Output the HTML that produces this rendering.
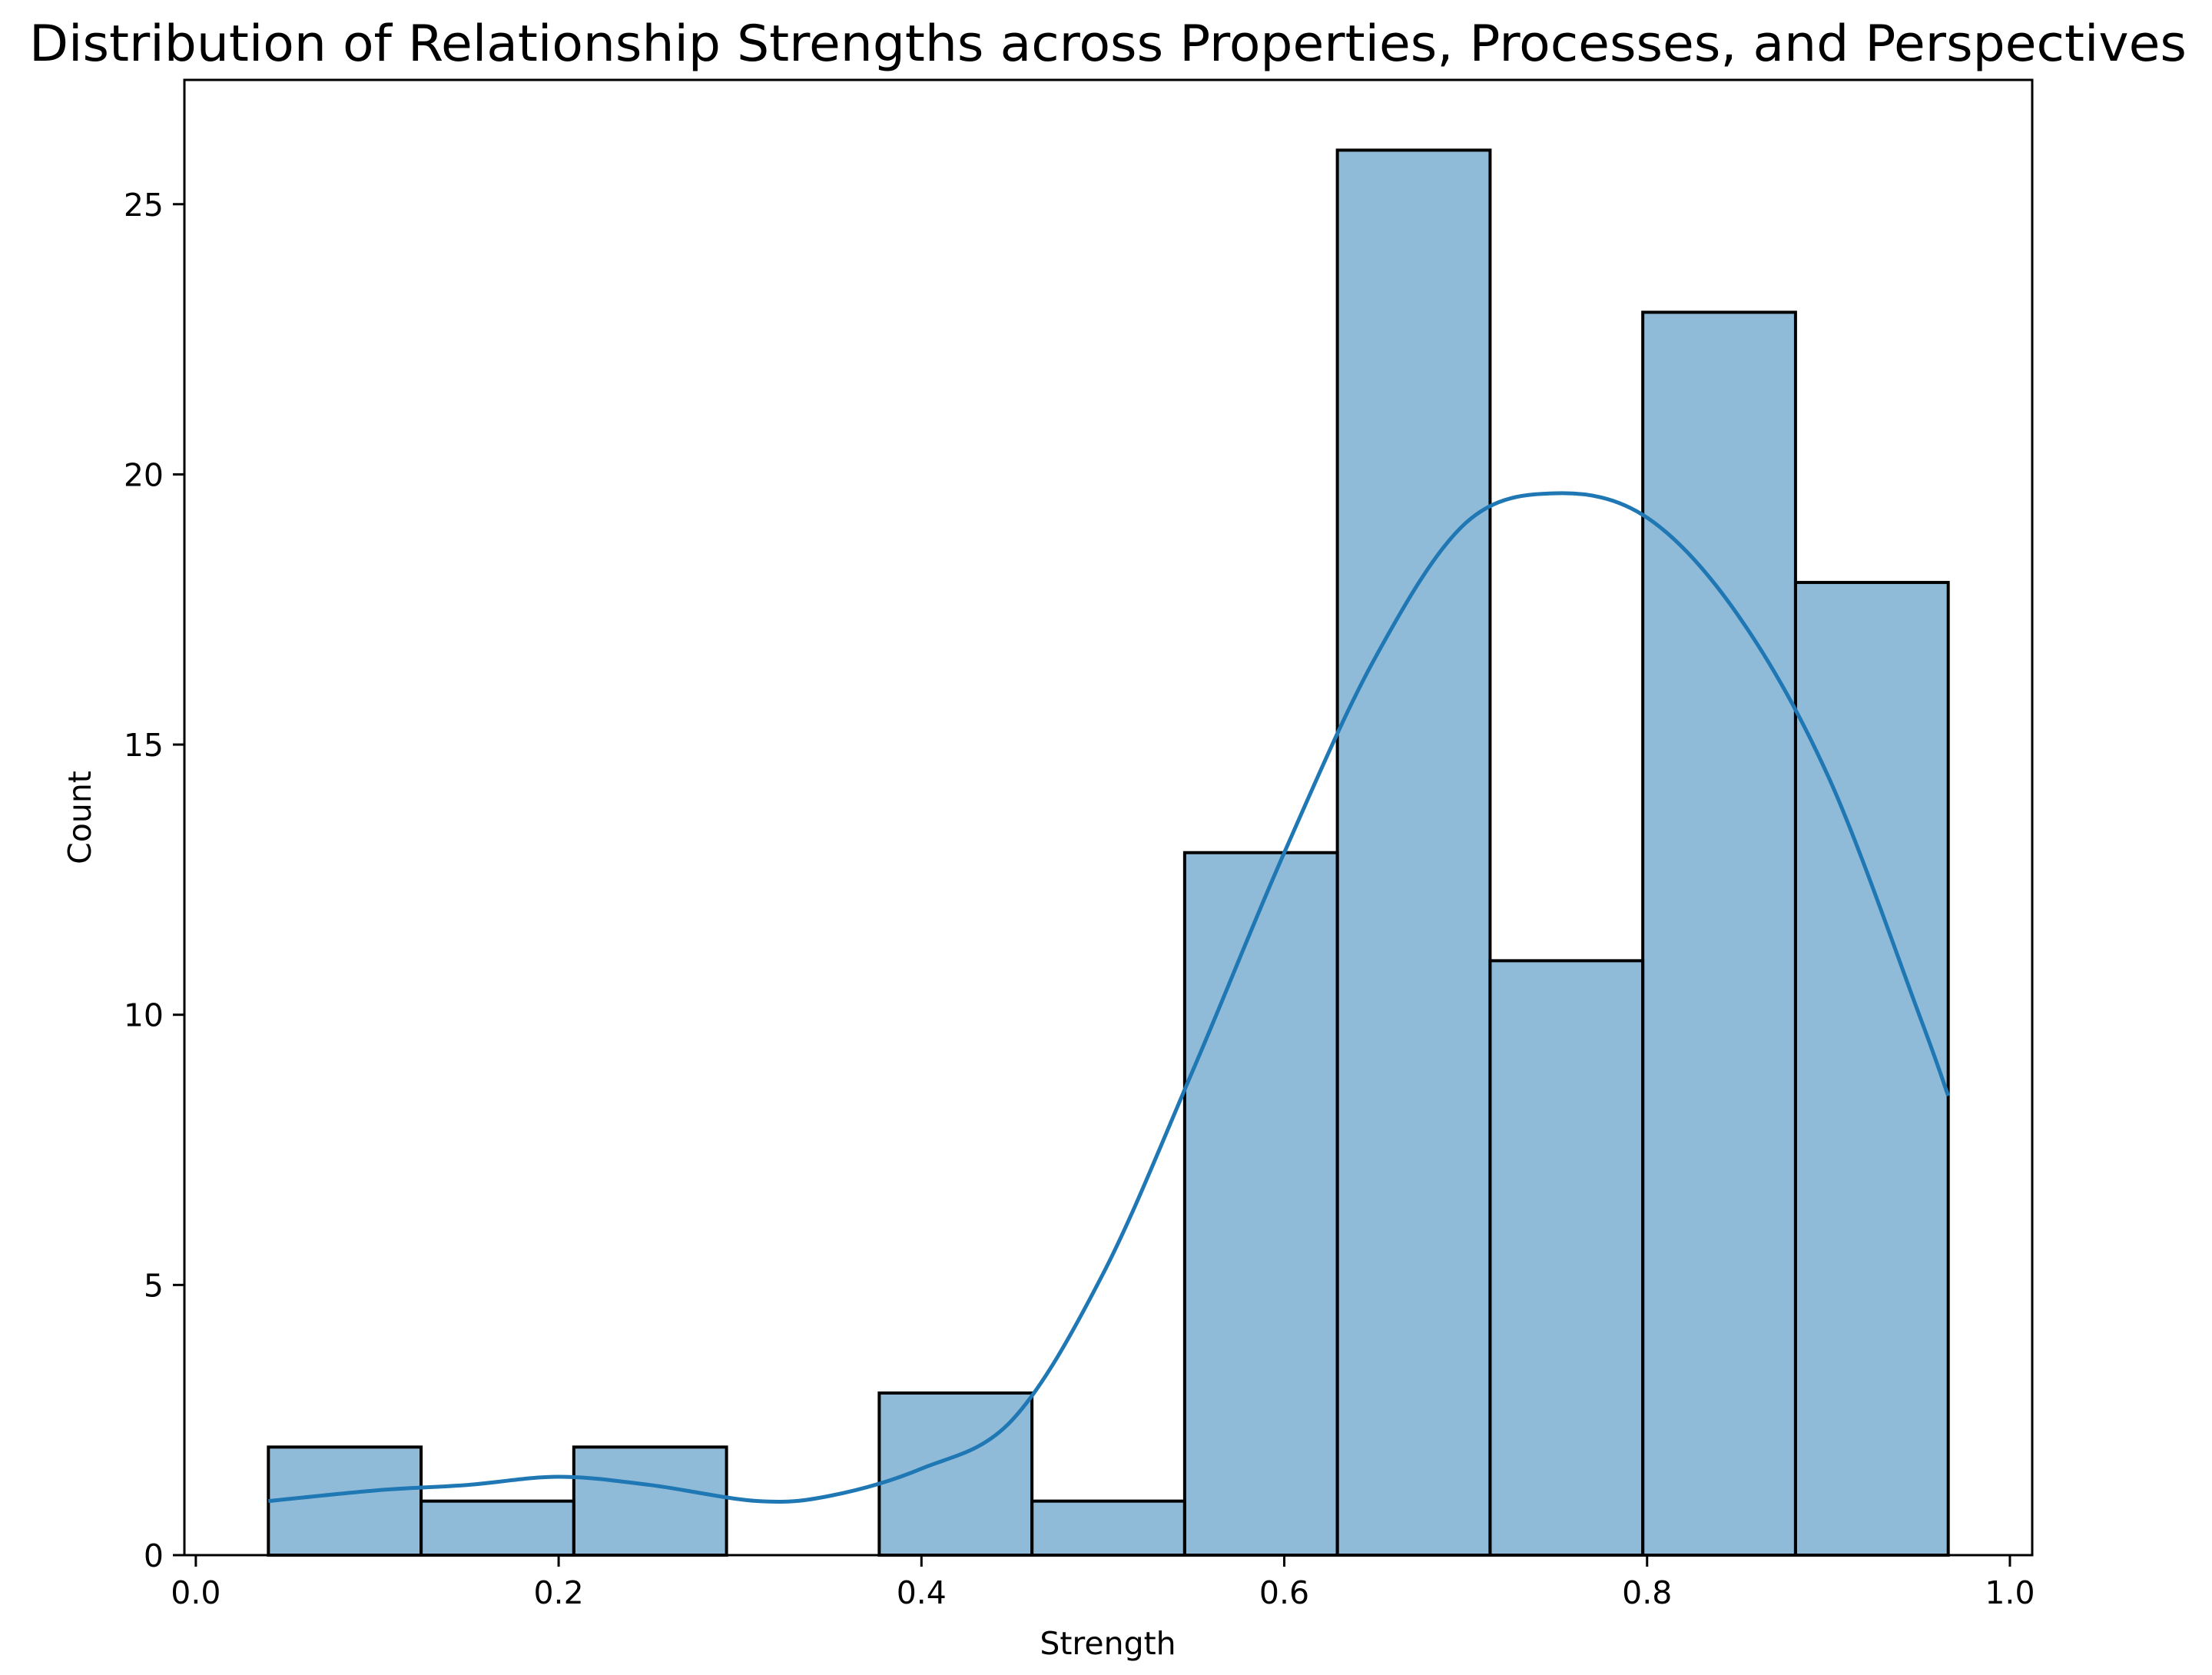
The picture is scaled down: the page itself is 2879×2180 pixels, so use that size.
<!DOCTYPE html>
<html><head><meta charset="utf-8"><style>
html,body{margin:0;padding:0;background:#fff;}
svg{display:block;font-family:"DejaVu Sans","Liberation Sans",sans-serif;}
</style></head><body>
<svg id="chart" width="2879" height="2180" viewBox="0 0 2879 2180" xmlns="http://www.w3.org/2000/svg">
<rect width="2879" height="2180" fill="#fff"/>
<text x="1442" y="79" font-size="65" text-anchor="middle" textLength="2808" lengthAdjust="spacingAndGlyphs">Distribution of Relationship Strengths across Properties, Processes, and Perspectives</text>
<g id="bars"></g>
<path id="kde" fill="none" stroke="#1f77b4" stroke-width="5"/>
<g id="axes"></g>
<text x="1442" y="2153" font-size="41" text-anchor="middle">Strength</text>
<text x="0" y="0" font-size="41" text-anchor="middle" transform="translate(118,1064) rotate(-90)">Count</text>
</svg>
<script>
const binStart = 0.04;
const binEnd = 0.966;
const counts = [2,1,2,0,3,1,13,26,11,23,18];
const kdeX = [0.04,0.1,0.15,0.2,0.25,0.31,0.35,0.4,0.45,0.5,0.55,0.6,0.65,0.7,0.75,0.8,0.85,0.9,0.95,0.966];
const kdeY = [1.0,1.2,1.3,1.45,1.3,1.0,1.1,1.6,2.5,5.2,9.0,13.0,16.6,19.1,19.65,19.2,17.4,14.4,10.0,8.5];
const xTicks = [0,0.2,0.4,0.6,0.8,1.0];
const xTickLabels = ["0.0","0.2","0.4","0.6","0.8","1.0"];
const yTicks = [0,5,10,15,20,25];
const yTickLabels = ["0","5","10","15","20","25"];

const L=240,R=2645,T=104,B=2024;
const xmin=-0.0063,xmax=1.0123,ymax=27.3;
const sx=v=>L+(v-xmin)/(xmax-xmin)*(R-L);
const sy=v=>B-v/ymax*(B-T);
const NS="http://www.w3.org/2000/svg";
const bars=document.getElementById('bars');
const w=(binEnd-binStart)/counts.length;
counts.forEach((c,i)=>{
  const x0=sx(binStart+i*w),x1=sx(binStart+(i+1)*w);
  const r=document.createElementNS(NS,'rect');
  r.setAttribute('x',x0);r.setAttribute('y',sy(c));
  r.setAttribute('width',x1-x0);r.setAttribute('height',B-sy(c));
  r.setAttribute('fill','rgba(31,119,180,0.5)');r.setAttribute('stroke','#000');r.setAttribute('stroke-width','4');
  
  
  bars.appendChild(r);
});
const pts=kdeX.map((x,i)=>[sx(x),sy(kdeY[i])]);
let d=`M${pts[0][0]},${pts[0][1]}`;
for(let i=0;i<pts.length-1;i++){
  const p0=pts[Math.max(0,i-1)],p1=pts[i],p2=pts[i+1],p3=pts[Math.min(pts.length-1,i+2)];
  const c1=[p1[0]+(p2[0]-p0[0])/6,p1[1]+(p2[1]-p0[1])/6];
  const c2=[p2[0]-(p3[0]-p1[0])/6,p2[1]-(p3[1]-p1[1])/6];
  d+=` C${c1[0]},${c1[1]} ${c2[0]},${c2[1]} ${p2[0]},${p2[1]}`;
}
document.getElementById('kde').setAttribute('d',d);
const ax=document.getElementById('axes');
const frame=document.createElementNS(NS,'rect');
frame.setAttribute('x',L);frame.setAttribute('y',T);frame.setAttribute('width',R-L);frame.setAttribute('height',B-T);
frame.setAttribute('fill','none');frame.setAttribute('stroke','#000');frame.setAttribute('stroke-width','3');


ax.appendChild(frame);
xTicks.forEach((v,i)=>{
  const l=document.createElementNS(NS,'line');
  l.setAttribute('x1',sx(v));l.setAttribute('x2',sx(v));l.setAttribute('y1',B);l.setAttribute('y2',B+15);
  l.setAttribute('stroke','#000');l.setAttribute('stroke-width','3');
  
  
  ax.appendChild(l);
  const t=document.createElementNS(NS,'text');
  t.setAttribute('x',sx(v));t.setAttribute('y',B+63);t.setAttribute('font-size','41');t.setAttribute('text-anchor','middle');
  t.textContent=xTickLabels[i];
  
  
  ax.appendChild(t);
});
yTicks.forEach((v,i)=>{
  const l=document.createElementNS(NS,'line');
  l.setAttribute('x1',L-15);l.setAttribute('x2',L);l.setAttribute('y1',sy(v));l.setAttribute('y2',sy(v));
  l.setAttribute('stroke','#000');l.setAttribute('stroke-width','3');
  
  
  ax.appendChild(l);
  const t=document.createElementNS(NS,'text');
  t.setAttribute('x',L-27);t.setAttribute('y',sy(v)+15);t.setAttribute('font-size','41');t.setAttribute('text-anchor','end');
  t.textContent=yTickLabels[i];
  
  
  ax.appendChild(t);
});
</script>
</body></html>
